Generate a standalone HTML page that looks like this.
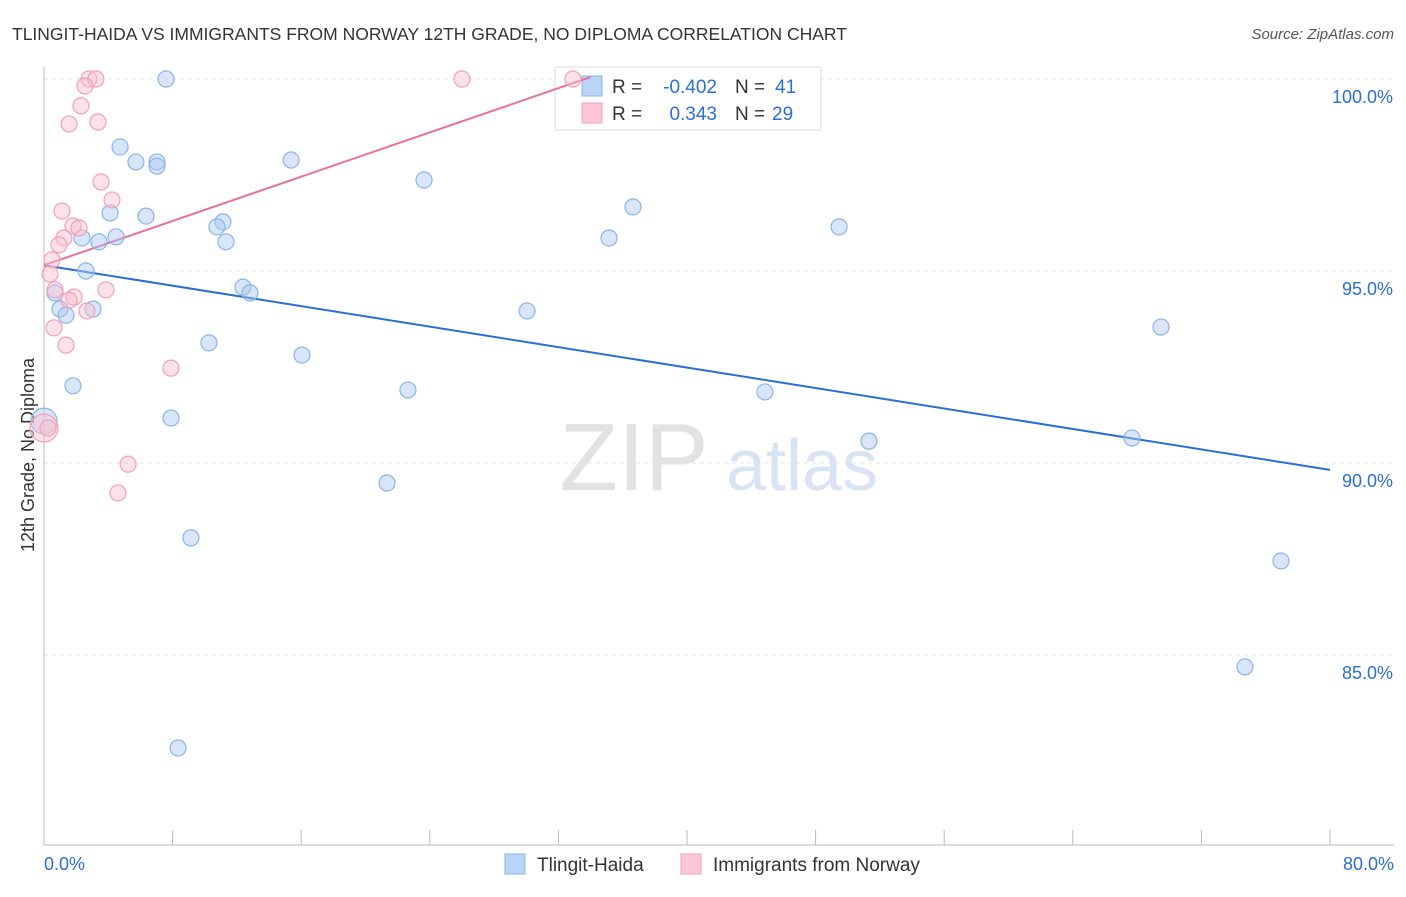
<!DOCTYPE html>
<html><head><meta charset="utf-8"><style>
body{margin:0;background:#fff;font-family:"Liberation Sans",sans-serif;}
svg text{font-family:"Liberation Sans",sans-serif;}
</style></head><body>
<svg id="chart" width="1406" height="892" xmlns="http://www.w3.org/2000/svg">
<text x="12" y="40" font-size="17.5" fill="#333">TLINGIT-HAIDA VS IMMIGRANTS FROM NORWAY 12TH GRADE, NO DIPLOMA CORRELATION CHART</text>
<text x="1394" y="39" font-size="15" fill="#555" text-anchor="end" font-style="italic">Source: ZipAtlas.com</text>
<text x="34" y="455" font-size="18" fill="#333" text-anchor="middle" transform="rotate(-90 34 455)">12th Grade, No Diploma</text>
<g><text x="634" y="490" font-size="96" fill="#e2e2e2" text-anchor="middle" font-family="Liberation Serif,serif">ZIP</text><text x="802" y="490" font-size="72" fill="#d8e4f4" text-anchor="middle">atlas</text></g>
<g id="grid"></g><g id="axes"></g>
<g>
<rect x="555" y="67" width="266" height="63" fill="#fff" stroke="#ddd"/>
<rect x="582" y="76" width="20" height="20" fill="#b8d4f6" stroke="#8ab4e8"/>
<rect x="582" y="103" width="20" height="20" fill="#fcc8d8" stroke="#f0a0b8"/>
<text x="612" y="93" font-size="19" fill="#333">R =</text>
<text x="717" y="93" font-size="19" fill="#2a6fd6" text-anchor="end">-0.402</text>
<text x="735" y="93" font-size="19" fill="#333">N =</text>
<text x="775" y="93" font-size="19" fill="#2a6fd6">41</text>
<text x="612" y="120" font-size="19" fill="#333">R =</text>
<text x="717" y="120" font-size="19" fill="#2a6fd6" text-anchor="end">0.343</text>
<text x="735" y="120" font-size="19" fill="#333">N =</text>
<text x="772" y="120" font-size="19" fill="#2a6fd6">29</text>
</g>
<g id="lines"></g><g id="pts"></g>
<g>
<rect x="505" y="854" width="20" height="20" fill="#b8d4f6" stroke="#8ab4e8"/>
<text x="537" y="871" font-size="19" fill="#333">Tlingit-Haida</text>
<rect x="681" y="854" width="20" height="20" fill="#fcc8d8" stroke="#f0a0b8"/>
<text x="713" y="871" font-size="19" fill="#333">Immigrants from Norway</text>
</g>
</svg>
<script>
const blueX=[7.59,4.73,5.72,7.03,7.03,15.37,23.64,36.64,4.11,6.35,11.13,10.76,3.42,4.48,2.36,11.32,35.15,49.46,2.61,0.68,12.38,12.81,0.99,3.05,1.37,30.05,69.49,10.26,16.05,1.80,22.64,44.85,7.90,0,51.32,67.68,21.34,9.14,76.95,74.71,8.34];
const blueY=[100,98.23,97.84,97.84,97.73,97.89,97.37,96.67,96.51,96.43,96.28,96.15,95.76,95.89,95.86,95.76,95.86,96.15,95.0,94.43,94.58,94.43,94.01,94.01,93.85,93.96,93.54,93.13,92.81,92.01,91.90,91.85,91.17,91.09,90.57,90.65,89.48,88.05,87.45,84.69,82.58];
const pinkX=[2.80,3.23,26.0,32.9,2.55,2.30,1.56,3.36,3.55,4.23,1.12,1.80,2.18,1.24,0.93,0.50,0.37,0.68,1.87,1.56,3.86,2.67,0.62,1.37,7.90,5.23,4.60,0,0.25];
const pinkY=[100,100,100,100,99.82,99.30,98.83,98.88,97.32,96.85,96.56,96.17,96.12,95.86,95.68,95.29,94.92,94.51,94.32,94.24,94.51,93.96,93.52,93.07,92.47,89.97,89.22,90.91,90.91];
const blueTrend=[95.15,89.82]; // y at x=0 and x=80
const pinkTrend=[95.15,100.05,34]; // y at 0, y at end, end x
const yTicks=[100,95,90,85];
const xTickLabels=["0.0%","80.0%"];
const NS="http://www.w3.org/2000/svg";
const X=v=>44+v*16.075, Y=v=>79+(100-v)*38.4;
function mk(tag,attrs,parent){const e=document.createElementNS(NS,tag);for(const k in attrs)e.setAttribute(k,attrs[k]);document.getElementById(parent).appendChild(e);return e;}
yTicks.forEach(t=>{
 const g=mk('line',{x1:44,x2:1394,y1:Y(t),y2:Y(t),stroke:'#e4e4e4','stroke-dasharray':'4,4'},'grid');
 
 
 const tx=mk('text',{x:1393,y:Y(t)+24,'font-size':18,fill:'#2a6fd6','text-anchor':'end'},'axes');
 tx.textContent=t.toFixed(1)+'%';
 
 
});
mk('line',{x1:44,x2:44,y1:67,y2:845,stroke:'#bbb'},'axes');
mk('line',{x1:44,x2:1394,y1:845,y2:845,stroke:'#bbb'},'axes');
for(let i=0;i<=10;i++){const t=mk('line',{x1:X(i*8),x2:X(i*8),y1:830,y2:845,stroke:'#bbb'},'axes');
 
 }
[[0,'start',44],[80,'end',1394]].forEach((d,i)=>{const t=mk('text',{x:d[2],y:870,'font-size':18,fill:'#2a6fd6','text-anchor':d[1]},'axes');t.textContent=xTickLabels[i];
 
 });
blueX.forEach((x,i)=>{const c=mk('circle',{cx:X(x),cy:Y(blueY[i]),r:x===0?13:8,fill:'rgba(170,200,242,0.45)',stroke:'#8ab4e8','stroke-width':1.2},'pts');
 
 });
pinkX.forEach((x,i)=>{const c=mk('circle',{cx:X(x),cy:Y(pinkY[i]),r:x===0?14:8,fill:'rgba(250,190,208,0.45)',stroke:'#f0a0b8','stroke-width':1.2},'pts');
 
 });
const bl=mk('line',{x1:X(0),y1:Y(blueTrend[0]),x2:X(80),y2:Y(blueTrend[1]),stroke:'#2a6fd6','stroke-width':2},'lines');


const pl=mk('line',{x1:X(0),y1:Y(pinkTrend[0]),x2:X(pinkTrend[2]),y2:Y(pinkTrend[1]),stroke:'#e8709a','stroke-width':2},'lines');


</script>
</body></html>
